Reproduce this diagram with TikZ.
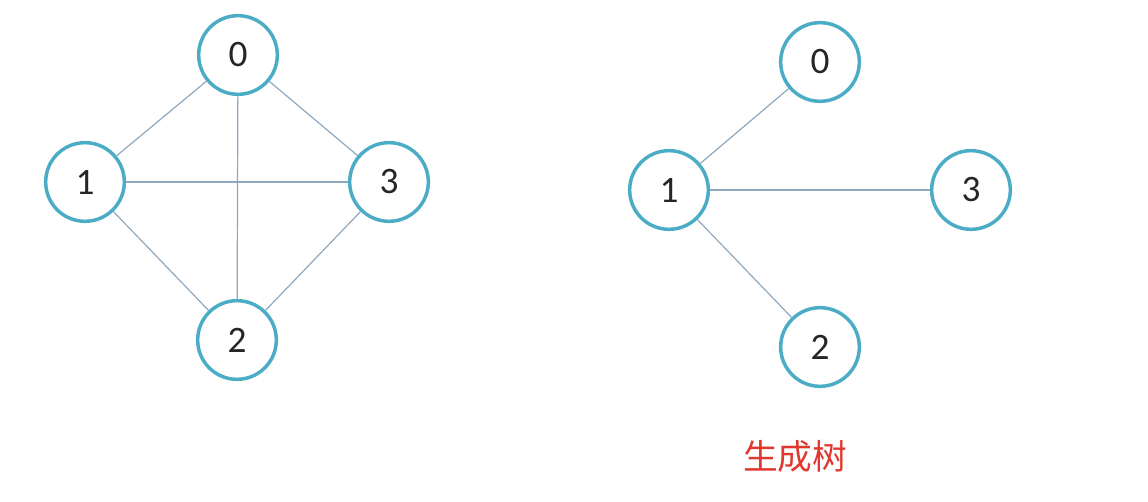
\documentclass[tikz,border=0pt]{standalone}
\usepackage{fontspec}
\setmainfont{Carlito}
\newfontfamily\cjk{Noto Sans CJK SC}
\definecolor{ringblue}{HTML}{4BACC6}
\definecolor{edgegray}{HTML}{8FA8BF}
\definecolor{labelred}{HTML}{E0382E}
\begin{document}
\begin{tikzpicture}[x=0.75pt,y=-0.75pt,
  vnode/.style={circle,draw=ringblue,line width=2.6pt,fill=white,minimum size=59pt,inner sep=0pt,font=\fontsize{28}{30}\selectfont,text=black!85},
  edge/.style={draw=edgegray,line width=0.9pt}]
\useasboundingbox (0,0) rectangle (1148,502);
% left graph
\node[vnode] (a0) at (238,55) {0};
\node[vnode] (a1) at (85,182) {1};
\node[vnode] (a3) at (389,182) {3};
\node[vnode] (a2) at (237,340) {2};
\draw[edge] (a0) -- (a1);
\draw[edge] (a0) -- (a2);
\draw[edge] (a0) -- (a3);
\draw[edge] (a1) -- (a3);
\draw[edge] (a1) -- (a2);
\draw[edge] (a2) -- (a3);
% right tree
\node[vnode] (b0) at (820,62) {0};
\node[vnode] (b1) at (669,190) {1};
\node[vnode] (b3) at (971,190) {3};
\node[vnode] (b2) at (820,347) {2};
\draw[edge] (b1) -- (b0);
\draw[edge] (b1) -- (b3);
\draw[edge] (b1) -- (b2);
\node[text=labelred,font=\cjk\fontsize{26}{29}\selectfont] (lbl) at (795,456) {生成树};
\end{tikzpicture}
\end{document}
